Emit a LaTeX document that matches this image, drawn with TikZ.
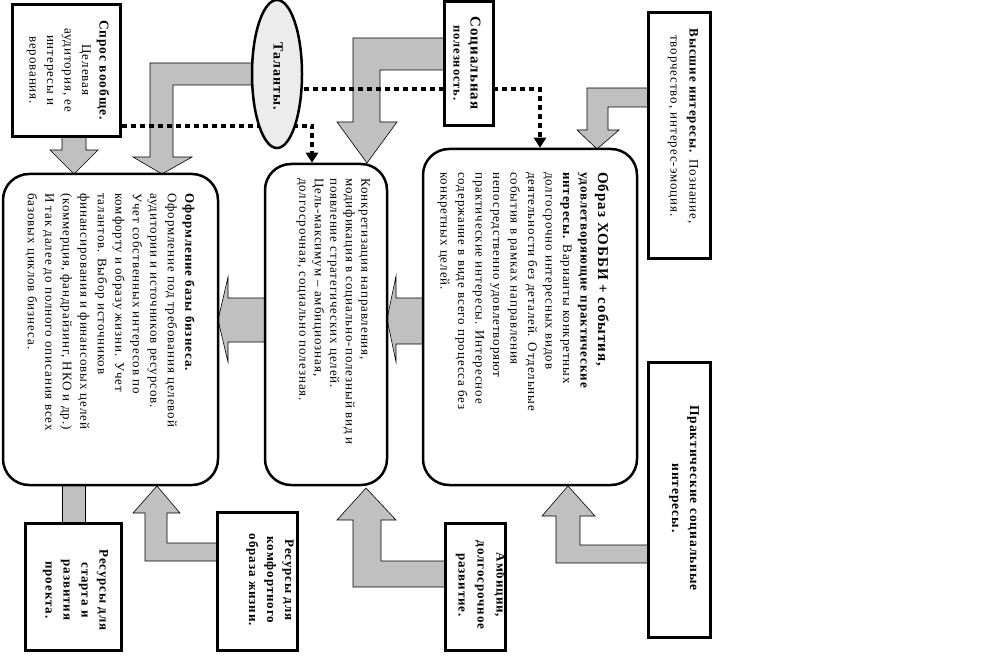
\documentclass[tikz,border=0pt]{standalone}
\usepackage{fontspec}
\setmainfont{Liberation Serif}[LetterSpace=7]
\usetikzlibrary{shapes.geometric,arrows.meta}
\definecolor{agray}{RGB}{192,192,192}
\definecolor{egray}{RGB}{236,236,236}
\pgfdeclarelayer{bg}
\pgfdeclarelayer{dots}
\pgfsetlayers{bg,dots,main}
\begin{document}
\begin{tikzpicture}[x=1pt,y=-1pt,
  rbox/.style={draw, line width=3pt, fill=white, inner sep=0},
  rnd/.style={draw, line width=2.5pt, fill=white, rounded corners=26pt, inner sep=0},
  txt/.style={rotate=-90, align=center, inner sep=0, font=\fontsize{13}{17.5}\selectfont},
  blk/.style={fill=agray, draw=black, line width=0.6pt},
  dotl/.style={line width=4pt, dash pattern=on 5pt off 4pt, -{Triangle[length=10pt,width=12pt]}}
]
\useasboundingbox (0,0) rectangle (984,663);

% rectangular boxes
\node[rbox, minimum width=108pt, minimum height=132pt] (spros) at (66,71) {};
\node[txt] (sprosT) at (68,70) {{\bfseries\fontsize{13.5}{17.5}\selectfont Спрос вообще.}\\Целевая\\аудитория, ее\\интересы и\\верования.};

\node[ellipse, draw, line width=2.5pt, fill=egray, minimum width=50pt, minimum height=148pt, inner sep=0] (tal) at (277,74) {};
\node[txt, font=\bfseries\fontsize{14}{16}\selectfont] (talT) at (278,76) {Таланты.};

\node[rbox, minimum width=49pt, minimum height=124pt] (soc) at (468.5,64) {};
\node[txt, font=\bfseries\fontsize{12.5}{17}\selectfont] (socT) at (467,63) {{\fontsize{15}{17}\selectfont Социальная}\\полезность.};

\node[rbox, minimum width=62pt, minimum height=245pt] (high) at (679,135.5) {};
\node[txt, font=\fontsize{13}{19}\selectfont] (highT) at (683,126) {\textbf{Высшие интересы.} Познание,\\творчество, интерес-эмоция.};

\node[rbox, minimum width=62pt, minimum height=275pt] (prac) at (679,499.5) {};
\node[txt, font=\bfseries\fontsize{13.5}{18}\selectfont] (pracT) at (684,498) {Практические социальные\\интересы.};

\node[rbox, minimum width=60pt, minimum height=127pt] (amb) at (475,586.5) {};
\node[txt, font=\bfseries\fontsize{13}{19}\selectfont] (ambT) at (481,585) {Амбиции,\\долгосрочное\\развитие.};

\node[rbox, minimum width=80pt, minimum height=138pt] (comf) at (257,581) {};
\node[txt, font=\bfseries\fontsize{13}{18}\selectfont] (comfT) at (270,580) {Ресурсы для\\комфортного\\образа жизни.};

\node[rbox, minimum width=96pt, minimum height=127pt] (start) at (73,586.5) {};
\node[txt, font=\bfseries\fontsize{13}{18}\selectfont] (startT) at (75.5,590) {Ресурсы для\\старта и\\развития\\проекта.};

% rounded boxes
\node[rnd, minimum width=215pt, minimum height=311pt] (left) at (110.5,329.5) {};
\node[rnd, minimum width=122pt, minimum height=321pt] (mid) at (326,324.5) {};
\node[rnd, minimum width=214pt, minimum height=336pt] (right) at (530,317) {};

\node[txt, align=left, anchor=north west] (leftT) at (195,193) {{\bfseries Оформление базы бизнеса.}\\
Оформление под требования целевой\\
аудитории и источников ресурсов.\\
Учет собственных интересов по\\
комфорту и образу жизни. Учет\\
талантов. Выбор источников\\
финансирования и финансовых целей\\
(коммерция, фандрайзинг, НКО и др.)\\
И так далее до полного описания всех\\
базовых циклов бизнеса.};

\node[txt, align=left, anchor=north west, font=\fontsize{13}{15.5}\selectfont] (midT) at (370,178) {Конкретизация направления,\\
модификация в социально-полезный вид и\\
появление стратегических целей.\\
Цель-максимум – амбициозная,\\
долгосрочная, социально полезная.};

\node[txt, align=left, anchor=north west] (rightT) at (609,172) {{\bfseries\fontsize{15}{17.5}\selectfont Образ ХОББИ + события,}\\
{\bfseries удовлетворяющие практические}\\
{\bfseries интересы.} Варианты конкретных\\
долгосрочно интересных видов\\
деятельности без деталей. Отдельные\\
события в рамках направления\\
непосредственно удовлетворяют\\
практические интересы. Интересное\\
содержание в виде всего процесса без\\
конкретных целей.};

% dotted connectors
\begin{pgfonlayer}{dots}
\draw[dotl] (spros.east |- 0,126) -| (mid.north -| 312,0);
\draw[dotl] (tal.center |- 0,89) -| (right.north -| 540,0);
\end{pgfonlayer}

% block arrows
\begin{pgfonlayer}{bg}
\draw[blk] (62,137) -- (62,150) -- (50,150) -- (74,174) -- (98,150) -- (86,150) -- (86,137) -- cycle;
\draw[blk] (253,63) -- (150,63) -- (150,157) -- (133,157) -- (162,174) -- (192,157) -- (173,157) -- (173,85) -- (253,85) -- cycle;
\draw[blk] (444,38) -- (353,38) -- (353,122) -- (337,122) -- (367,163) -- (397,122) -- (380,122) -- (380,70) -- (444,70) -- cycle;
\draw[blk] (648,88) -- (587,88) -- (587,130) -- (577,130) -- (597,149) -- (619,130) -- (608,130) -- (608,107) -- (648,107) -- cycle;
\draw[blk] (265,298) -- (228,298) -- (228,277) -- (218,320) -- (228,362) -- (228,342) -- (265,342) -- cycle;
\draw[blk] (423,298) -- (396,298) -- (396,276) -- (387,319) -- (396,362) -- (396,344) -- (423,344) -- cycle;
\draw[blk] (62,523) rectangle (85,485);
\draw[blk] (217,543) -- (167,543) -- (167,513) -- (180,513) -- (157,486) -- (133,513) -- (145,513) -- (145,561) -- (217,561) -- cycle;
\draw[blk] (445,561) -- (381,561) -- (381,520) -- (396,520) -- (366,488) -- (337,520) -- (353,520) -- (353,587) -- (445,587) -- cycle;
\draw[blk] (648,545) -- (580,545) -- (580,516) -- (595,516) -- (568,486) -- (542,516) -- (556,516) -- (556,563) -- (648,563) -- cycle;
\end{pgfonlayer}
\end{tikzpicture}
\end{document}
